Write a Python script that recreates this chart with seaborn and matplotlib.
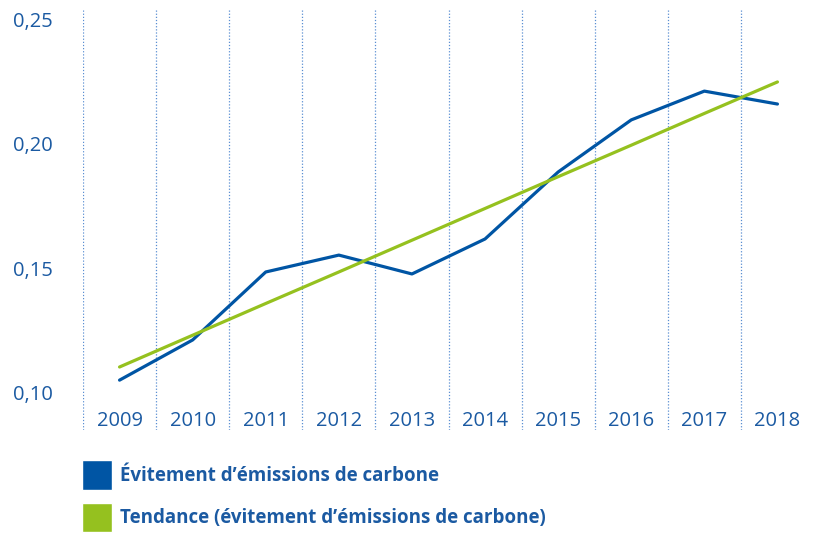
import numpy as np
import pandas as pd
import seaborn as sns
import matplotlib.pyplot as plt
from matplotlib.patches import Patch

# values
years = ['2009', '2010', '2011', '2012', '2013', '2014', '2015', '2016', '2017', '2018']
avoided = [0.1048, 0.1210, 0.1484, 0.1552, 0.1476, 0.1617, 0.1887, 0.2097, 0.2213, 0.2161]
trend = [0.1101, 0.1229, 0.1357, 0.1484, 0.1612, 0.1740, 0.1868, 0.1995, 0.2123, 0.2250]
yticks = [0.10, 0.15, 0.20, 0.25]
ytick_labels = ['0,10', '0,15', '0,20', '0,25']
labels = ["Évitement d’émissions de carbone", "Tendance (évitement d’émissions de carbone)"]

blue = '#0055a4'
green = '#95c11f'
text_col = '#1b5aa2'

sns.set_style('white')
plt.rcParams['font.family'] = ['Open Sans', 'DejaVu Sans']

df = pd.DataFrame({'pos': np.arange(len(years)), 'avoided': avoided, 'trend': trend})

fig = plt.figure(figsize=(8.14, 5.35), dpi=100)
ax = fig.add_axes([83 / 814, 1 - 430 / 535, 1 - 83 / 814, 420 / 535])

sns.lineplot(data=df, x='pos', y='avoided', color=blue, linewidth=2.3, ax=ax)
sns.lineplot(data=df, x='pos', y='trend', color=green, linewidth=2.3, ax=ax)

ax.set_xlim(-0.5, 9.5)
ax.set_ylim(0.0847, 0.2540)
for s in ax.spines.values():
    s.set_visible(False)

# dotted separators between years
ax.set_xticks(np.arange(-0.5, 9, 1), minor=True)
ax.grid(which='minor', axis='x', linestyle=(0, (1, 1.5)), color='#5a8fd2', linewidth=0.9)
ax.grid(which='major', visible=False)

ax.set_xticks(df['pos'])
ax.set_xticklabels(years)
ax.set_yticks(yticks)
ax.set_yticklabels(ytick_labels)
ax.tick_params(axis='x', which='both', length=0, pad=-14, labelsize=14.5, labelcolor=text_col)
ax.tick_params(axis='y', length=0, pad=22, labelsize=14.5, labelcolor=text_col)
ax.set_xlabel('')
ax.set_ylabel('')

handles = [Patch(facecolor=blue), Patch(facecolor=green)]
leg = fig.legend(handles, labels, loc='upper left', bbox_to_anchor=(82 / 814, 1 - 460 / 535),
                 frameon=False, handlelength=1.6, handleheight=2.05, handletextpad=0.45,
                 labelspacing=0.7, borderaxespad=0, borderpad=0,
                 prop={'size': 13.5, 'weight': 'bold'})
for t in leg.get_texts():
    t.set_color(text_col)

plt.savefig('out.png', dpi=100)
